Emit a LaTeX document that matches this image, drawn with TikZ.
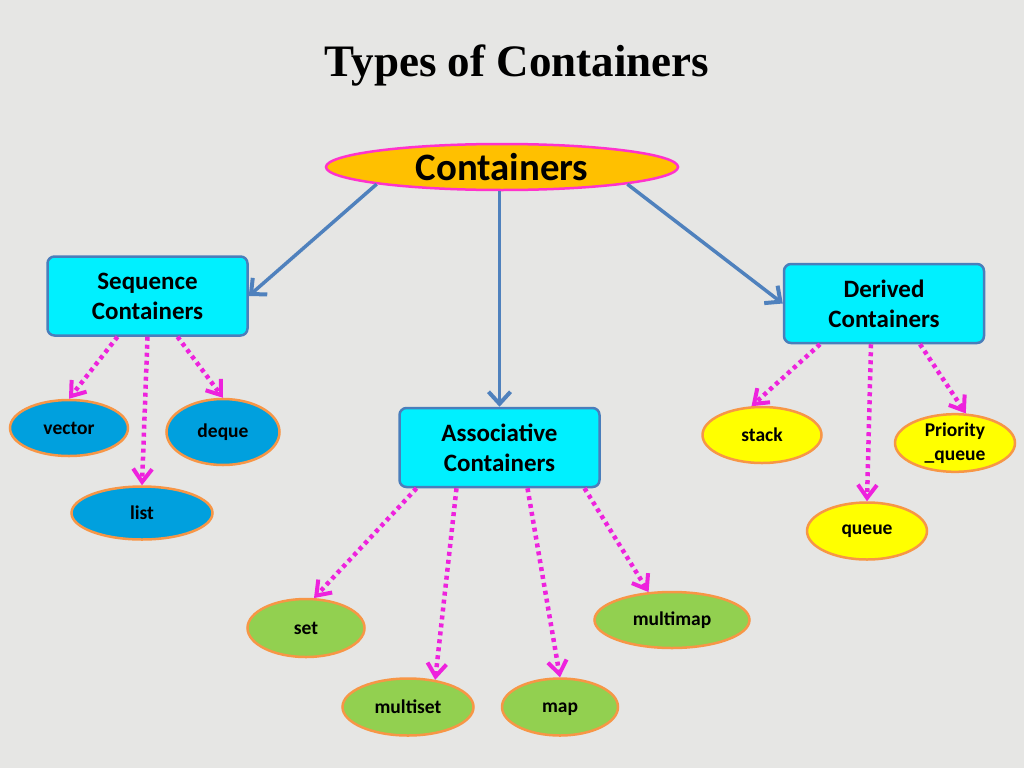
\documentclass[tikz,border=0pt]{standalone}
\usepackage{fontspec}
\setmainfont{Liberation Serif}
\newfontfamily\calib{Carlito}
\usepackage{tikz}
\usetikzlibrary{positioning,arrows.meta,shapes.geometric,calc}
\definecolor{bgpaper}{RGB}{230,230,228}
\definecolor{boxcyan}{RGB}{0,240,255}
\definecolor{boxline}{RGB}{74,126,187}
\definecolor{linkblue}{RGB}{79,129,189}
\definecolor{linkpink}{RGB}{238,34,221}
\definecolor{rimorange}{RGB}{247,150,70}
\definecolor{seqblue}{RGB}{0,160,222}
\definecolor{derived}{RGB}{255,255,0}
\definecolor{assocgreen}{RGB}{146,208,80}
\begin{document}
\begin{tikzpicture}[x=1pt,y=-1pt,
    groupbox/.style={rectangle,rounded corners=7pt,draw=boxline,line width=2.5pt,fill=boxcyan,
        minimum width=200pt,minimum height=79pt,align=center,font=\calib\bfseries\fontsize{25}{30}\selectfont},
    leaf/.style={ellipse,draw=rimorange,line width=2.5pt,inner sep=0pt,align=center,
        font=\calib\bfseries\fontsize{19.5}{24}\selectfont},
    mainlink/.style={draw=linkblue,line width=3.5pt,-{Straight Barb[length=12pt,width=22pt,line width=4pt]}},
    sublink/.style={draw=linkpink,line width=4.5pt,dash pattern=on 4pt off 4pt,
        -{Straight Barb[length=13pt,width=19pt,line width=4pt]}}]
    \fill[bgpaper] (0,0) rectangle (1024,768);
    \useasboundingbox (0,0) rectangle (1024,768);
    \node[font=\bfseries\fontsize{45}{54}\selectfont] (title) at (517,66) {Types of Containers};
    % root
    \node[ellipse,draw={rgb,255:red,255;green,51;blue,204},line width=2.5pt,fill={rgb,255:red,255;green,192;blue,0},
        minimum width=352pt,minimum height=46pt,inner sep=0pt,font=\calib\bfseries\fontsize{38.8}{46}\selectfont]
        (cont) at (502,167) {Containers};
    % three groups
    \node[groupbox] (seq) at (147.5,296) {Sequence\\Containers};
    \node[groupbox] (assoc) at (499.5,447.5) {Associative\\Containers};
    \node[groupbox] (der) at (884,303.5) {Derived\\Containers};
    % sequence leaves
    \node[leaf,fill=seqblue,minimum width=118pt,minimum height=56pt] (vec) at (69,428) {vector};
    \node[leaf,fill=seqblue,minimum width=113pt,minimum height=66pt] (deq) at (223,432) {deque};
    \node[leaf,fill=seqblue,minimum width=141pt,minimum height=53pt] (lst) at (142,513) {list};
    % derived leaves
    \node[leaf,fill=derived,minimum width=119pt,minimum height=56pt] (stk) at (762,435) {stack};
    \node[leaf,fill=derived,minimum width=120pt,minimum height=57pt] (pq) at (955,443) {Priority\\\_queue};
    \node[leaf,fill=derived,minimum width=120pt,minimum height=57pt] (que) at (867,531) {queue};
    % associative leaves
    \node[leaf,fill=assocgreen,minimum width=117pt,minimum height=58pt] (set) at (306,628) {set};
    \node[leaf,fill=assocgreen,minimum width=131pt,minimum height=57pt] (mset) at (408,707) {multiset};
    \node[leaf,fill=assocgreen,minimum width=116pt,minimum height=57pt,text height=13.5pt] (map) at (560,707) {map};
    \node[leaf,fill=assocgreen,minimum width=155pt,minimum height=56pt] (mmap) at (672,620) {multimap};
    % links
    \draw[mainlink] (cont.south west) -- (seq.east);
    \draw[mainlink] (cont.south -| assoc.north) -- (assoc.north);
    \draw[mainlink] (cont.south east) -- (der.west);
    \draw[sublink] ($(seq.south)+(-30,0)$) -- (vec.north);
    \draw[sublink] (seq.south) -- (lst.north);
    \draw[sublink] ($(seq.south)+(30,0)$) -- (deq.north);
    \draw[sublink] ($(der.south)+(-64,0)$) -- (stk.110);
    \draw[sublink] ($(der.south)+(-13,0)$) -- (que.north);
    \draw[sublink] ($(der.south)+(36,0)$) -- (pq.70);
    \draw[sublink] ($(assoc.south)+(-83,0)$) -- (set.75);
    \draw[sublink] ($(assoc.south)+(-43,0)$) -- (mset.45);
    \draw[sublink] ($(assoc.south)+(28,0)$) -- (map.north);
    \draw[sublink] ($(assoc.south)+(85,0)$) -- (mmap.130);
\end{tikzpicture}
\end{document}
